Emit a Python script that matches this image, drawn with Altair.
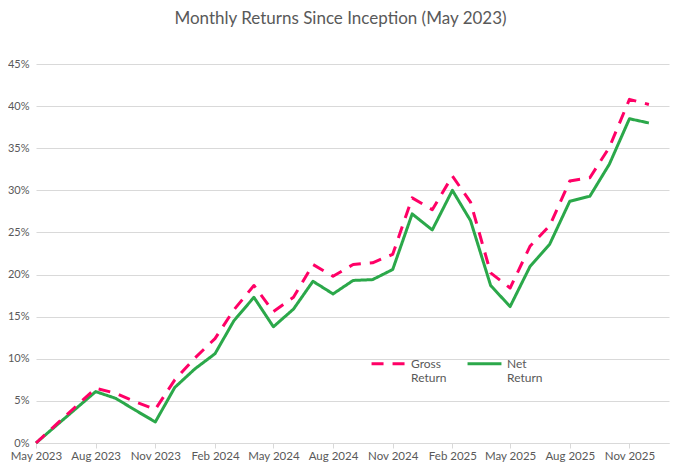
import altair as alt
import pandas as pd

# Month dates (Jun/Jul 2023 lie on a straight segment in the reference)
months = [
    "2023-05-01", "2023-08-01", "2023-09-01", "2023-10-01", "2023-11-01", "2023-12-01",
    "2024-01-01", "2024-02-01", "2024-03-01", "2024-04-01", "2024-05-01", "2024-06-01",
    "2024-07-01", "2024-08-01", "2024-09-01", "2024-10-01", "2024-11-01", "2024-12-01",
    "2025-01-01", "2025-02-01", "2025-03-01", "2025-04-01", "2025-05-01", "2025-06-01",
    "2025-07-01", "2025-08-01", "2025-09-01", "2025-10-01", "2025-11-01", "2025-12-01",
]
gross = [
    0.0, 6.5, 5.9, 4.9, 4.0, 7.5,
    10.1, 12.4, 15.8, 18.7, 15.6, 17.3,
    21.2, 19.8, 21.2, 21.4, 22.4, 29.1,
    27.7, 31.7, 28.6, 20.2, 18.4, 23.4,
    25.8, 31.1, 31.5, 35.1, 40.8, 40.2,
]
net = [
    0.0, 6.1, 5.3, 3.9, 2.5, 6.6,
    8.8, 10.6, 14.5, 17.3, 13.8, 15.9,
    19.2, 17.7, 19.3, 19.4, 20.6, 27.2,
    25.3, 30.0, 26.4, 18.7, 16.2, 21.0,
    23.6, 28.7, 29.3, 33.1, 38.5, 38.0,
]
series_names = ["Gross Return", "Net Return"]
series_colors = ["#FF0066", "#2BA84A"]
y_ticks = [0, 5, 10, 15, 20, 25, 30, 35, 40, 45]
x_tick_months = [(2023, 5), (2023, 8), (2023, 11), (2024, 2), (2024, 5), (2024, 8),
                 (2024, 11), (2025, 2), (2025, 5), (2025, 8), (2025, 11)]

rows = []
for d, g, n in zip(months, gross, net):
    rows.append({"date": d, "series": series_names[0], "value": g})
    rows.append({"date": d, "series": series_names[1], "value": n})
df = pd.DataFrame(rows)

FONT = "Lato"
TXT = "#595959"
GRID = "#D9D9D9"

legend = alt.Legend(
    title=None, orient="none", legendX=334, legendY=281, direction="horizontal",
    symbolType="stroke", symbolStrokeWidth=3, symbolSize=1150,
    labelFont=FONT, labelFontSize=12, labelColor=TXT, labelOffset=4,
    columnPadding=14, labelExpr="split(datum.label, ' ')", labelBaseline="middle",
)

x = alt.X(
    "date:T",
    scale=alt.Scale(type="utc", domain=[alt.DateTime(year=2023, month=5, date=1, utc=True),
                                        alt.DateTime(year=2026, month=1, date=1, utc=True)]),
    axis=alt.Axis(
        values=[alt.DateTime(year=y, month=m, date=1, utc=True) for y, m in x_tick_months],
        labelExpr="utcFormat(datum.value, '%b %Y')",
        title=None, grid=False, domainColor=GRID, tickColor=GRID, tickSize=5,
        labelPadding=2, labelFont=FONT, labelFontSize=11.5, labelColor=TXT,
        labelFlush=False, labelOverlap=False,
    ),
)
y = alt.Y(
    "value:Q",
    scale=alt.Scale(domain=[0, 45]),
    axis=alt.Axis(
        values=y_ticks, labelExpr="datum.value + '%'", title=None, domain=False,
        ticks=False, gridColor=GRID, labelPadding=7, labelFont=FONT,
        labelFontSize=11, labelColor=TXT,
    ),
)
color = alt.Color("series:N", scale=alt.Scale(domain=series_names, range=series_colors),
                  legend=legend)
dash = alt.StrokeDash("series:N", scale=alt.Scale(domain=series_names, range=[[12, 9], [1, 0]]),
                      legend=legend)

base = alt.Chart(df).encode(x=x, y=y, color=color, strokeDash=dash)
net_line = base.transform_filter(alt.datum.series == series_names[1]).mark_line(
    strokeWidth=3, strokeJoin="round")
gross_line = base.transform_filter(alt.datum.series == series_names[0]).mark_line(
    strokeWidth=3, strokeJoin="round")

chart = alt.layer(net_line, gross_line).properties(
    width=633, height=379,
    autosize=alt.AutoSizeParams(type="none"),
    padding={"left": 28, "top": 56, "right": 2, "bottom": 21},
    title=alt.TitleParams("Monthly Returns Since Inception (May 2023)", font=FONT,
                          fontSize=17, fontWeight="normal", color=TXT, anchor="middle",
                          dx=-12, dy=-26),
).configure_view(stroke=None)

chart.save("out.html", embed_options={"renderer": "svg", "actions": False})
